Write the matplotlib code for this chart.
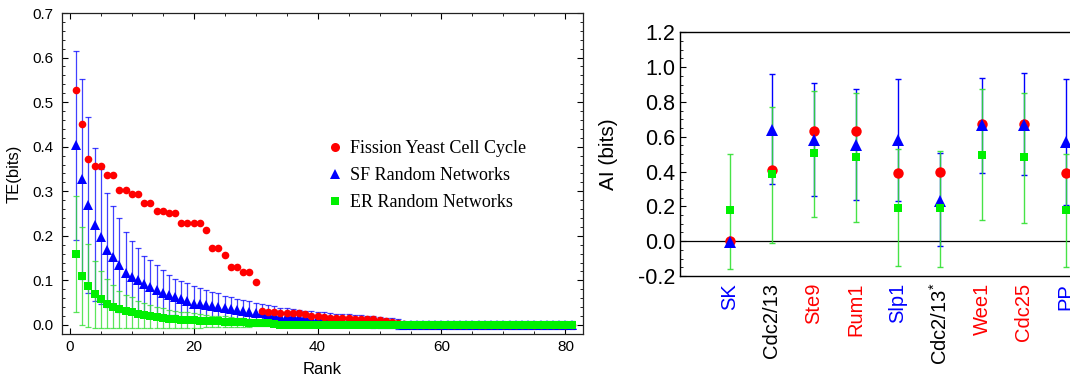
import numpy as np
import matplotlib
matplotlib.use("Agg")
import matplotlib.pyplot as plt
from matplotlib.lines import Line2D
from matplotlib.ticker import MultipleLocator, FormatStrFormatter

plt.rcParams['font.family'] = ['Liberation Sans', 'DejaVu Sans']
plt.rcParams['mathtext.fontset'] = 'custom'
plt.rcParams['mathtext.rm'] = 'Liberation Sans'
plt.rcParams['mathtext.it'] = 'Liberation Sans'

# ---- left panel: TE vs rank ----
rank = np.arange(1, 82)

te_yeast = [0.527, 0.450, 0.372, 0.357, 0.357, 0.337, 0.337, 0.302, 0.302, 0.294,
            0.294, 0.273, 0.273, 0.256, 0.256, 0.251, 0.251, 0.229, 0.229, 0.229,
            0.229, 0.214, 0.173, 0.173, 0.158, 0.130, 0.130, 0.119, 0.119, 0.097,
            0.031, 0.029, 0.028, 0.027, 0.027, 0.026, 0.026, 0.025, 0.021, 0.019,
            0.018, 0.016, 0.016, 0.015, 0.015, 0.014, 0.014, 0.013, 0.013, 0.012,
            0.009, 0.006, 0.004, 0.003] + [0.0] * 27

te_sf = [0.403, 0.328, 0.269, 0.225, 0.198, 0.168, 0.152, 0.134, 0.117, 0.108,
         0.101, 0.091, 0.086, 0.078, 0.072, 0.068, 0.063, 0.058, 0.054, 0.048,
         0.046, 0.044, 0.042, 0.040, 0.037, 0.035, 0.033, 0.031, 0.029, 0.027,
         0.026, 0.024, 0.023, 0.021, 0.020, 0.019, 0.018, 0.017, 0.016, 0.015,
         0.014, 0.013, 0.012, 0.012, 0.011, 0.010, 0.009, 0.008, 0.007, 0.006,
         0.005, 0.004, 0.003] + [0.0] * 28
te_sf_err = [0.212, 0.224, 0.198, 0.171, 0.152, 0.128, 0.115, 0.106, 0.091, 0.080,
             0.072, 0.064, 0.060, 0.056, 0.051, 0.045, 0.041, 0.040, 0.040, 0.039,
             0.036, 0.034, 0.032, 0.031, 0.029, 0.027, 0.026, 0.025, 0.024, 0.023,
             0.021, 0.020, 0.019, 0.018, 0.017, 0.016, 0.016, 0.015, 0.015, 0.014,
             0.014, 0.014, 0.013, 0.013, 0.013, 0.013, 0.013, 0.013, 0.013, 0.012,
             0.011, 0.011, 0.011] + [0.009] * 28

te_er = [0.160, 0.110, 0.088, 0.069, 0.058, 0.048, 0.041, 0.035, 0.031, 0.028,
         0.024, 0.022, 0.019, 0.017, 0.016, 0.014, 0.013, 0.012, 0.011, 0.010,
         0.009, 0.009, 0.008, 0.008, 0.007, 0.007, 0.006, 0.006, 0.005, 0.005,
         0.004, 0.004, 0.003] + [0.0] * 48
te_er_err = [0.130, 0.110, 0.093, 0.075, 0.064, 0.055, 0.048, 0.042, 0.037, 0.034,
             0.030, 0.028, 0.025, 0.023, 0.022, 0.020, 0.019, 0.018, 0.017, 0.016,
             0.015, 0.014, 0.013, 0.013, 0.012, 0.011, 0.010, 0.010, 0.009, 0.008,
             0.007, 0.006, 0.005] + [0.0] * 48

legend_labels = ['Fission Yeast Cell Cycle', 'SF Random Networks', 'ER Random Networks']

# ---- right panel: AI per gene ----
genes = ['SK', 'Cdc2/13', 'Ste9', 'Rum1', 'Slp1', 'Cdc2/13$^{*}$', 'Wee1', 'Cdc25', 'PP']
gene_colors = ['#0000ff', 'black', '#ff0000', '#ff0000', '#0000ff', 'black',
               '#ff0000', '#ff0000', '#0000ff']
ai_yeast = [0.002, 0.408, 0.634, 0.634, 0.393, 0.398, 0.672, 0.672, 0.389]
ai_sf = [-0.005, 0.638, 0.580, 0.552, 0.580, 0.232, 0.667, 0.667, 0.571]
ai_sf_lo = [-0.005, 0.330, 0.260, 0.236, 0.230, -0.029, 0.393, 0.379, 0.207]
ai_sf_hi = [-0.005, 0.960, 0.910, 0.875, 0.933, 0.504, 0.939, 0.967, 0.933]
ai_er = [0.178, 0.385, 0.504, 0.481, 0.191, 0.188, 0.494, 0.485, 0.178]
ai_er_lo = [-0.157, -0.010, 0.140, 0.111, -0.144, -0.151, 0.121, 0.105, -0.151]
ai_er_hi = [0.500, 0.770, 0.864, 0.849, 0.529, 0.519, 0.874, 0.849, 0.500]

RED = '#ff0000'
BLUE = '#0000ff'
GREEN = '#00f000'
GREEN_BAR = '#33e033'

fig = plt.figure(figsize=(10.70, 3.78), dpi=100)

# left
ax = fig.add_axes([0.0577, 0.1156, 0.4869, 0.8500])
ax.errorbar(rank, te_sf, yerr=te_sf_err, fmt='none', ecolor=BLUE, elinewidth=0.9,
            capsize=2.2, capthick=0.9, alpha=0.75, zorder=1)
ax.plot(rank, te_sf, '^', color=BLUE, ms=6.5, mew=0, zorder=2)
ax.plot(rank, te_yeast, 'o', color=RED, ms=5.5, mew=0, zorder=3)
ax.errorbar(rank, te_er, yerr=te_er_err, fmt='none', ecolor=GREEN_BAR, elinewidth=0.9,
            capsize=2.0, capthick=0.9, alpha=0.8, zorder=4)
ax.plot(rank, te_er, 's', color=GREEN, ms=5.6, mew=0, zorder=5)

ax.set_xlim(-1.3, 82.8)
ax.set_ylim(-0.021, 0.7)
ax.xaxis.set_major_locator(MultipleLocator(20))
ax.xaxis.set_minor_locator(MultipleLocator(5))
ax.yaxis.set_major_locator(MultipleLocator(0.1))
ax.yaxis.set_minor_locator(MultipleLocator(0.02))
ax.yaxis.set_major_formatter(FormatStrFormatter('%.1f'))
ax.tick_params(which='both', direction='in', top=True, right=True, labelsize=11)
ax.tick_params(which='major', length=4, width=0.8)
ax.tick_params(which='minor', length=2.2, width=0.6)
ax.tick_params(axis='y', pad=6)
ax.tick_params(axis='x', pad=4)
for s in ax.spines.values():
    s.set_linewidth(0.9)
    s.set_color('#222222')
ax.set_xlabel('Rank', fontsize=12, labelpad=6)
ax.set_ylabel('TE(bits)', fontsize=12, labelpad=8)

handles = [Line2D([], [], ls='none', marker='o', color=RED, ms=6.5, mew=0),
           Line2D([], [], ls='none', marker='^', color=BLUE, ms=6.5, mew=0),
           Line2D([], [], ls='none', marker='s', color=GREEN, ms=5.5, mew=0)]
ax.legend(handles, legend_labels, loc='upper left', bbox_to_anchor=(0.508, 0.605),
          frameon=False, borderpad=0, borderaxespad=0, handlelength=1.0,
          handletextpad=0.33, labelspacing=0.56,
          prop={'family': 'Liberation Serif', 'size': 13})

# right
x = np.arange(len(genes))
ax2 = fig.add_axes([0.6355, 0.2698, 0.4196, 0.6448])
ax2.axhline(0, color='black', lw=0.9, zorder=0)
ax2.errorbar(x, ai_sf, yerr=[np.array(ai_sf) - np.array(ai_sf_lo),
                             np.array(ai_sf_hi) - np.array(ai_sf)],
             fmt='none', ecolor=BLUE, elinewidth=1.0, capsize=2.2, capthick=1.0, zorder=1)
ax2.errorbar(x, ai_er, yerr=[np.array(ai_er) - np.array(ai_er_lo),
                             np.array(ai_er_hi) - np.array(ai_er)],
             fmt='none', ecolor=GREEN_BAR, elinewidth=1.0, capsize=2.2, capthick=1.0,
             alpha=0.9, zorder=2)
ax2.plot(x, ai_yeast, 'o', color=RED, ms=7.5, mew=0, zorder=3)
ax2.plot(x, ai_sf, '^', color=BLUE, ms=8.5, mew=0, zorder=4)
ax2.plot(x, ai_er, 's', color=GREEN, ms=6.3, mew=0, zorder=5)

ax2.set_xlim(-1.19, 9.5)
ax2.set_ylim(-0.2, 1.2)
ax2.yaxis.set_major_locator(MultipleLocator(0.2))
ax2.yaxis.set_minor_locator(MultipleLocator(0.05))
ax2.yaxis.set_major_formatter(FormatStrFormatter('%.1f'))
ax2.tick_params(axis='y', which='both', direction='in', labelsize=15.5, pad=3.5)
ax2.tick_params(axis='y', which='major', length=4.5, width=0.8)
ax2.tick_params(axis='y', which='minor', length=2.5, width=0.6)
ax2.set_xticks(x)
ax2.set_xticklabels(genes, rotation=90, fontsize=14.5)
ax2.tick_params(axis='x', length=0, pad=5)
for lab, c in zip(ax2.get_xticklabels(), gene_colors):
    lab.set_color(c)
ax2.spines['right'].set_visible(False)
for s in ['left', 'top', 'bottom']:
    ax2.spines[s].set_linewidth(1.0)
ax2.set_ylabel('AI (bits)', fontsize=15, labelpad=14)

fig.savefig('out.png', dpi=100)
